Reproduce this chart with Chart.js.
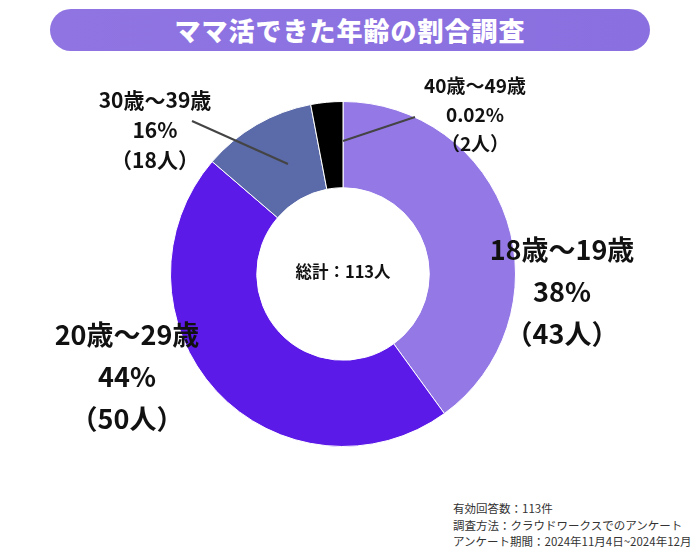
<!DOCTYPE html>
<html><head><meta charset="utf-8">
<script src="https://cdn.jsdelivr.net/npm/chart.js@4"></script>
<style>
body{margin:0;width:700px;height:550px;background:#fff;font-family:"Noto Sans CJK JP","Noto Sans",sans-serif;position:relative;overflow:hidden}
#title{position:absolute;left:50px;top:9px;width:600px;height:42px;border-radius:21px;background:linear-gradient(90deg,#8f74e2,#8a6fe0);color:#fff;font-weight:900;font-size:26px;text-align:center;line-height:42px;letter-spacing:1px}
#wrap{position:absolute;left:170px;top:101px;width:346px;height:346px}
.lb{position:absolute;text-align:center;font-weight:700;color:#111;line-height:1.3}
#note{position:absolute;left:453px;top:500px;font-size:11.5px;color:#333;line-height:16.5px}
</style></head><body>
<div id="title">ママ活できた年齢の割合調査</div>
<div id="wrap"><canvas id="c"></canvas></div>
<div class="lb" style="left:462px;top:228px;font-size:27px;line-height:42px;width:200px">18歳～19歳<br>38%<br>（43人）</div>
<div class="lb" style="left:27px;top:313px;font-size:27px;line-height:42px;width:200px">20歳～29歳<br>44%<br>（50人）</div>
<div class="lb" style="left:70px;top:84px;font-size:21px;line-height:30px;width:170px">30歳～39歳<br>16%<br>（18人）</div>
<div class="lb" style="left:400px;top:70px;font-size:19px;line-height:29px;width:150px">40歳～49歳<br>0.02%<br>（2人）</div>
<div class="lb" style="left:268px;top:261px;font-size:16.5px;width:150px">総計：113人</div>
<div id="note">有効回答数：113件<br>調査方法：クラウドワークスでのアンケート<br>アンケート期間：2024年11月4日~2024年12月20日</div>
<script>
const categories=["18歳～19歳","20歳～29歳","30歳～39歳","40歳～49歳"];
const counts=[43,50,18,2];
const drawnShares=[40,46.3,10.7,3.0];
const colors=["#9479e6","#5c1ae8","#5b6aa8","#000000"];
const leader={id:'leader',afterDraw(ch){
 const ctx=ch.ctx, a0=ch.getDatasetMeta(0).data[2], a1=ch.getDatasetMeta(0).data[3];
 const cx=a0.x, cy=a0.y;
 ctx.save();ctx.strokeStyle='#444';ctx.lineWidth=2;
 ctx.beginPath();ctx.moveTo(cx-55,cy-110);ctx.lineTo(cx-151,cy-153);ctx.stroke();
 ctx.beginPath();ctx.moveTo(a1.x,cy-133);ctx.lineTo(cx+72,cy-157);ctx.stroke();
 ctx.restore();}};
new Chart(document.getElementById('c'),{type:'doughnut',
 data:{labels:categories,datasets:[{data:drawnShares,backgroundColor:colors,borderColor:'#fff',borderWidth:1}]},
 options:{responsive:true,maintainAspectRatio:false,animation:false,cutout:'50%',
  plugins:{legend:{display:false},tooltip:{enabled:false}},layout:{padding:0}},
 plugins:[leader]});
</script></body></html>
